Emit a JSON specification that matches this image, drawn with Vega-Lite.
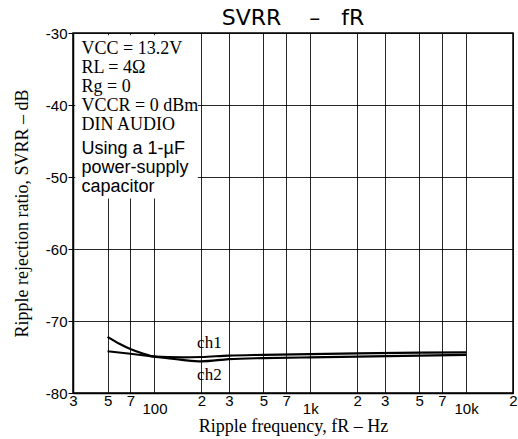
{
  "$schema": "https://vega.github.io/schema/vega-lite/v6.json",
  "width": 440,
  "height": 360,
  "autosize": {"type": "none"},
  "padding": {"left": 73, "top": 33, "right": 5, "bottom": 46},
  "background": "white",
  "title": {"text": "SVRR\u00a0\u00a0\u00a0\u00a0–\u00a0\u00a0\u00a0fR", "font": "DejaVu Sans", "fontSize": 22, "fontWeight": "normal", "anchor": "middle", "offset": -4, "color": "black"},
  "config": {
    "view": {"stroke": "black", "strokeWidth": 1.5},
    "axis": {"gridColor": "black", "gridOpacity": 0.85, "gridWidth": 1, "domainColor": "black", "domainWidth": 1.5, "labelColor": "black", "titleColor": "black", "tickColor": "black"}
  },
  "datasets": {
    "curves": [
      {"f": 50, "svrr": -72.2, "ch": "ch1"},
      {"f": 60, "svrr": -73.2, "ch": "ch1"},
      {"f": 70, "svrr": -73.9, "ch": "ch1"},
      {"f": 85, "svrr": -74.55, "ch": "ch1"},
      {"f": 100, "svrr": -74.95, "ch": "ch1"},
      {"f": 150, "svrr": -75.05, "ch": "ch1"},
      {"f": 200, "svrr": -75.0, "ch": "ch1"},
      {"f": 300, "svrr": -74.8, "ch": "ch1"},
      {"f": 500, "svrr": -74.7, "ch": "ch1"},
      {"f": 1000, "svrr": -74.6, "ch": "ch1"},
      {"f": 2000, "svrr": -74.5, "ch": "ch1"},
      {"f": 5000, "svrr": -74.4, "ch": "ch1"},
      {"f": 10000, "svrr": -74.35, "ch": "ch1"},
      {"f": 50, "svrr": -74.2, "ch": "ch2"},
      {"f": 70, "svrr": -74.55, "ch": "ch2"},
      {"f": 100, "svrr": -74.95, "ch": "ch2"},
      {"f": 150, "svrr": -75.4, "ch": "ch2"},
      {"f": 200, "svrr": -75.6, "ch": "ch2"},
      {"f": 300, "svrr": -75.3, "ch": "ch2"},
      {"f": 500, "svrr": -75.15, "ch": "ch2"},
      {"f": 1000, "svrr": -75.05, "ch": "ch2"},
      {"f": 2000, "svrr": -74.95, "ch": "ch2"},
      {"f": 5000, "svrr": -74.8, "ch": "ch2"},
      {"f": 10000, "svrr": -74.7, "ch": "ch2"}
    ],
    "labels": [
      {"f": 225, "svrr": -73.1, "label": "ch1"},
      {"f": 225, "svrr": -77.5, "label": "ch2"}
    ]
  },
  "layer": [
    {
      "data": {"values": [{}]},
      "mark": {"type": "rect", "fill": "white", "stroke": null},
      "encoding": {
        "x": {"datum": 31, "type": "quantitative", "scale": {"type": "log", "domain": [30, 20000], "nice": false},
          "axis": {
            "values": [30, 50, 70, 100, 200, 300, 500, 700, 1000, 2000, 3000, 5000, 7000, 10000, 20000],
            "labelExpr": "datum.value==100?'100':datum.value==1000?'1k':datum.value==10000?'10k':substring(toString(datum.value),0,1)",
            "labelFont": "Liberation Sans", "labelFontSize": 15,
            "labelPadding": {"condition": {"test": "datum.value==100||datum.value==1000||datum.value==10000", "value": 8}, "value": 0},
            "labelFlush": false, "labelOverlap": false, "labelBound": false,
            "ticks": false, "grid": true,
            "title": "Ripple frequency, fR – Hz", "titleFont": "Liberation Serif", "titleFontSize": 18, "titleFontWeight": "normal", "titlePadding": 1
          }},
        "x2": {"datum": 190},
        "y": {"datum": -30.3, "type": "quantitative", "scale": {"domain": [-80, -30], "nice": false},
          "axis": {
            "values": [-30, -40, -50, -60, -70, -80],
            "labelExpr": "'-' + abs(datum.value)",
            "labelFont": "Liberation Sans", "labelFontSize": 15, "labelPadding": 1, "tickSize": 5,
            "grid": true,
            "title": "Ripple rejection ratio, SVRR – dB", "titleFont": "Liberation Serif", "titleFontSize": 18, "titleFontWeight": "normal", "titlePadding": 14
          }},
        "y2": {"datum": -53}
      }
    },
    {
      "data": {"name": "curves"},
      "mark": {"type": "line", "stroke": "black", "strokeWidth": 2.2, "interpolate": "monotone"},
      "encoding": {
        "x": {"field": "f", "type": "quantitative"},
        "y": {"field": "svrr", "type": "quantitative"},
        "detail": {"field": "ch"}
      }
    },
    {
      "data": {"name": "labels"},
      "mark": {"type": "text", "font": "Liberation Serif", "fontSize": 17, "letterSpacing": 4, "color": "black"},
      "encoding": {
        "x": {"field": "f", "type": "quantitative"},
        "y": {"field": "svrr", "type": "quantitative"},
        "text": {"field": "label"}
      }
    },
    {
      "data": {"values": [{}]},
      "mark": {"type": "text", "font": "Liberation Serif", "fontSize": 18, "align": "left", "baseline": "top", "lineHeight": 19, "color": "black",
        "text": ["VCC = 13.2V", "RL = 4Ω", "Rg = 0", "VCCR = 0 dBm", "DIN AUDIO"]},
      "encoding": {
        "x": {"datum": 34, "type": "quantitative"},
        "y": {"datum": -31.0, "type": "quantitative"}
      }
    },
    {
      "data": {"values": [{}]},
      "mark": {"type": "text", "font": "Liberation Sans", "fontSize": 18, "align": "left", "baseline": "top", "lineHeight": 19, "color": "black",
        "text": ["Using a 1-µF", "power-supply", "capacitor"]},
      "encoding": {
        "x": {"datum": 34, "type": "quantitative"},
        "y": {"datum": -44.8, "type": "quantitative"}
      }
    }
  ]
}
